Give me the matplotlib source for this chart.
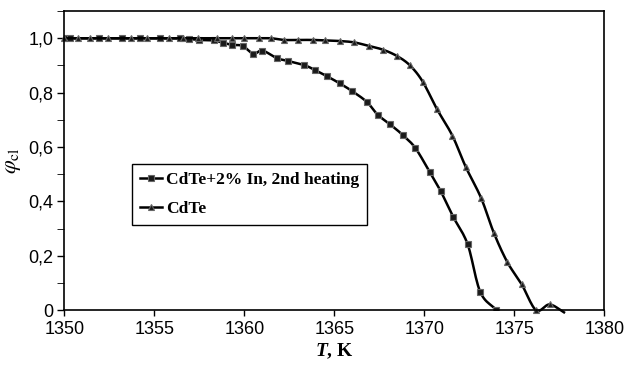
import numpy as np
import matplotlib
matplotlib.use("Agg")
import matplotlib.pyplot as plt
from matplotlib.ticker import FuncFormatter, MultipleLocator

# CdTe+2% In, 2nd heating (squares)
t_in = [1350.0, 1350.3, 1351.9, 1353.2, 1354.2, 1355.3, 1356.4, 1356.9, 1357.5,
        1358.3, 1358.8, 1359.3, 1359.9, 1360.5, 1361.0, 1361.8, 1362.4, 1363.3,
        1363.9, 1364.6, 1365.3, 1366.0, 1366.8, 1367.4, 1368.1, 1368.8, 1369.5,
        1370.3, 1370.9, 1371.6, 1372.4, 1373.1, 1374.0]
phi_in = [1.0, 1.0, 1.0, 1.0, 1.0, 1.0, 1.0, 0.998, 0.994,
          0.992, 0.984, 0.976, 0.972, 0.943, 0.955, 0.927, 0.917, 0.902,
          0.884, 0.860, 0.834, 0.805, 0.766, 0.719, 0.683, 0.644, 0.596,
          0.507, 0.438, 0.343, 0.242, 0.067, 0.0]

# pure CdTe (triangles)
t_cdte = [1350.0, 1350.75, 1351.4, 1352.4, 1353.7, 1354.6, 1355.8, 1356.6, 1357.4,
          1358.5, 1359.3, 1360.0, 1360.8, 1361.5, 1362.2, 1363.0, 1363.8, 1364.5,
          1365.3, 1366.1, 1366.9, 1367.7, 1368.5, 1369.2, 1369.9, 1370.7, 1371.55,
          1372.3, 1373.15, 1373.85, 1374.6, 1375.4, 1376.2, 1376.95, 1377.75]
phi_cdte = [1.0, 1.0, 1.0, 1.0, 1.0, 1.0, 1.0, 1.0, 1.0,
            1.0, 1.0, 1.0, 1.0, 1.0, 0.994, 0.994, 0.994, 0.992,
            0.990, 0.985, 0.972, 0.958, 0.934, 0.900, 0.841, 0.739, 0.642,
            0.526, 0.412, 0.285, 0.177, 0.095, 0.0, 0.021, -0.008]

y_ticks = [0, 0.2, 0.4, 0.6, 0.8, 1.0]
x_ticks = [1350, 1355, 1360, 1365, 1370, 1375, 1380]


def smooth(x, y, n=12):
    # Catmull-Rom through the points, like a spreadsheet "smoothed line"
    x = np.asarray(x, float)
    y = np.asarray(y, float)
    px = np.concatenate([[2 * x[0] - x[1]], x, [2 * x[-1] - x[-2]]])
    py = np.concatenate([[2 * y[0] - y[1]], y, [2 * y[-1] - y[-2]]])
    s = np.linspace(0, 1, n, endpoint=False)
    xs, ys = [], []
    for i in range(1, len(px) - 2):
        for p, out in ((px, xs), (py, ys)):
            p0, p1, p2, p3 = p[i - 1], p[i], p[i + 1], p[i + 2]
            out.extend(0.5 * (2 * p1 + (-p0 + p2) * s
                              + (2 * p0 - 5 * p1 + 4 * p2 - p3) * s ** 2
                              + (-p0 + 3 * p1 - 3 * p2 + p3) * s ** 3))
    xs.append(x[-1])
    ys.append(y[-1])
    return np.array(xs), np.array(ys)


plt.rcParams["font.family"] = "Liberation Sans"
plt.rcParams["mathtext.fontset"] = "custom"
plt.rcParams["mathtext.it"] = "Liberation Serif:italic:bold"
plt.rcParams["mathtext.rm"] = "Liberation Serif:bold"

fig = plt.figure(figsize=(6.31, 3.71), dpi=100)
ax = fig.add_axes([0.102, 0.164, 0.856, 0.806])

mk = dict(markersize=5, markerfacecolor="#1a1a1a", markeredgecolor="#666666",
          markeredgewidth=0.8)

sx, sy = smooth(t_in, phi_in)
ax.plot(sx, sy, color="black", lw=1.8)
ax.plot(t_in, phi_in, ls="none", marker="s", **mk)

cx, cy = smooth(t_cdte, phi_cdte)
ax.plot(cx, cy, color="black", lw=1.8, clip_on=False)
ax.plot(t_cdte[:-1], phi_cdte[:-1], ls="none", marker="^", clip_on=False, **mk)

# legend proxies
h1, = ax.plot([], [], color="black", lw=1.8, marker="s", **mk)
h2, = ax.plot([], [], color="black", lw=1.8, marker="^", **mk)
leg = ax.legend([h1, h2], ["CdTe+2% In, 2nd heating", "CdTe"],
                loc="upper left", bbox_to_anchor=(0.125, 0.488),
                borderaxespad=0, fancybox=False, framealpha=1,
                edgecolor="black", handlelength=1.3, handletextpad=0.2,
                borderpad=0.45, labelspacing=0.75,
                prop={"family": "Liberation Serif", "weight": "bold", "size": 12.5})
leg.get_frame().set_linewidth(1.0)

ax.set_xlim(1350, 1380)
ax.set_ylim(0, 1.1)
ax.set_xticks(x_ticks)
ax.set_yticks(y_ticks)
ax.yaxis.set_minor_locator(MultipleLocator(0.1))
ax.yaxis.set_major_formatter(FuncFormatter(
    lambda v, p: "0" if abs(v) < 1e-9 else f"{v:.1f}".replace(".", ",")))
ax.tick_params(axis="both", direction="out", labelsize=13, width=1.0, color="black")
ax.tick_params(axis="x", length=4, pad=4)
ax.tick_params(axis="y", which="both", length=5, pad=3)
for sp in ax.spines.values():
    sp.set_linewidth(1.2)
    sp.set_color("black")

ax.set_xlabel(r"$T$, K", fontsize=14, family="Liberation Serif",
              fontweight="bold", labelpad=2)
ax.set_ylabel(r"$\varphi_{\rm cl}$", fontsize=16, labelpad=4,
              math_fontfamily="stix")

fig.savefig("out.png", dpi=100)
